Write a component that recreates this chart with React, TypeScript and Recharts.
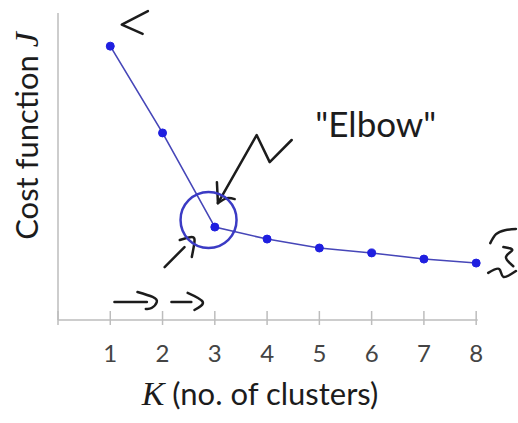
import React from "react";
import {
  LineChart,
  Line,
  XAxis,
  YAxis,
  ReferenceLine,
  ReferenceDot,
  Label,
} from "recharts";

// K vs cost J
const clusterCounts = [1, 2, 3, 4, 5, 6, 7, 8];
const costValues = [89.0, 60.8, 30.2, 26.3, 23.4, 21.8, 19.8, 18.5];
const xTicks = [0, 1, 2, 3, 4, 5, 6, 7, 8];

// pen scribbles, in data units
const topCaret = [
  { k: 1.72, j: 100.4 },
  { k: 1.22, j: 96.0 },
  { k: 1.62, j: 93.0 },
];
const elbowArrow = [
  { k: 4.47, j: 58.5 },
  { k: 4.05, j: 51.3 },
  { k: 3.8, j: 60.1 },
  { k: 3.06, j: 38.0 },
];
const arrowBarbA = [
  { k: 3.04, j: 44.8 },
  { k: 3.06, j: 38.0 },
];
const arrowBarbB = [
  { k: 3.06, j: 38.0 },
  { k: 3.23, j: 39.6 },
  { k: 3.38, j: 39.3 },
];
const hookStroke = [
  { k: 2.04, j: 17.2 },
  { k: 2.42, j: 23.7 },
];
const hook = [
  { k: 2.33, j: 26.0 },
  { k: 2.56, j: 27.0 },
  { k: 2.61, j: 25.3 },
  { k: 2.56, j: 20.5 },
];
const shaft1 = [
  { k: 1.08, j: 5.85 },
  { k: 1.7, j: 5.85 },
];
const head1 = [
  { k: 1.52, j: 9.1 },
  { k: 1.81, j: 7.5 },
  { k: 1.89, j: 5.85 },
  { k: 1.79, j: 3.9 },
  { k: 1.68, j: 3.6 },
];
const shaft2 = [
  { k: 2.17, j: 5.85 },
  { k: 2.55, j: 5.85 },
];
const head2 = [
  { k: 2.48, j: 8.8 },
  { k: 2.77, j: 5.85 },
  { k: 2.61, j: 3.25 },
];
const rightTop = [
  { k: 8.27, j: 25.0 },
  { k: 8.38, j: 27.9 },
  { k: 8.55, j: 29.2 },
  { k: 8.76, j: 29.6 },
];
const rightMid = [
  { k: 8.52, j: 23.7 },
  { k: 8.69, j: 22.7 },
  { k: 8.57, j: 20.5 },
  { k: 8.71, j: 17.5 },
];
const rightBottom = [
  { k: 8.23, j: 15.3 },
  { k: 8.44, j: 16.6 },
  { k: 8.52, j: 14.0 },
  { k: 8.76, j: 15.9 },
];

const costData = clusterCounts.map((k, i) => ({ k, j: costValues[i] }));

const scribbles = [
  { data: topCaret, type: "linear" },
  { data: elbowArrow, type: "linear" },
  { data: arrowBarbA, type: "linear" },
  { data: arrowBarbB, type: "natural" },
  { data: hookStroke, type: "linear" },
  { data: hook, type: "natural" },
  { data: shaft1, type: "linear" },
  { data: head1, type: "natural" },
  { data: shaft2, type: "linear" },
  { data: head2, type: "natural" },
  { data: rightTop, type: "natural" },
  { data: rightMid, type: "natural" },
  { data: rightBottom, type: "natural" },
];

const SANS = "Lato, 'Noto Sans', sans-serif";
const SERIF = "'Liberation Serif', 'DejaVu Serif', serif";
const INK = "#1c1c1c";
const AXIS = "#bdbdbd";

const KTick = (props: any) => {
  const { x, y, payload } = props;
  return (
    <g>
      <line x1={x} x2={x} y1={y - 9} y2={y + 5} stroke={AXIS} strokeWidth={1.5} />
      {payload.value !== 0 && (
        <text x={x} y={y + 42} textAnchor="middle" fontFamily={SANS} fontSize={24} fill="#444">
          {payload.value}
        </text>
      )}
    </g>
  );
};

const renderXLabel = (props: any) => {
  const vb = props.viewBox;
  return (
    <text x={vb.x + 202} y={vb.y + 85} textAnchor="middle" fontFamily={SANS} fontSize={31} fill={INK}>
      <tspan fontFamily={SERIF} fontStyle="italic" fontSize={34}>K</tspan>
      <tspan> (no. of clusters)</tspan>
    </text>
  );
};

const renderYLabel = (props: any) => {
  const vb = props.viewBox;
  const cx = vb.x + 38;
  const cy = vb.y + 136;
  return (
    <text
      x={cx}
      y={cy}
      transform={`rotate(-90 ${cx} ${cy})`}
      textAnchor="middle"
      fontFamily={SANS}
      fontSize={31}
      fill={INK}
    >
      <tspan>Cost function </tspan>
      <tspan fontFamily={SERIF} fontStyle="italic" fontSize={34}>J</tspan>
    </text>
  );
};

const renderElbow = (props: any) => {
  const vb = props.viewBox;
  return (
    <text x={vb.x} y={vb.y} textAnchor="middle" fontFamily={SANS} fontSize={35} fill={INK}>
      "Elbow"
    </text>
  );
};

export default function App() {
  return (
    <div style={{ position: "absolute", left: 0, top: 0, width: 518, height: 423, background: "#fff" }}>
      <LineChart width={518} height={423} data={costData} margin={{ top: 0, right: 0, left: 0, bottom: 0 }}>
        <XAxis
          type="number"
          dataKey="k"
          domain={[0, 8.8]}
          ticks={xTicks}
          allowDataOverflow
          axisLine={false}
          tickLine={false}
          tickSize={0}
          tickMargin={0}
          tick={KTick}
          height={103}
          label={<Label content={renderXLabel} />}
        />
        <YAxis
          type="number"
          domain={[0, 104]}
          allowDataOverflow
          width={58}
          tick={false}
          tickLine={false}
          axisLine={false}
          label={<Label content={renderYLabel} />}
        />
        <ReferenceLine segment={[{ x: 0, y: 0 }, { x: 8.03, y: 0 }]} stroke={AXIS} strokeWidth={1.5} />
        <ReferenceLine segment={[{ x: 0, y: 0 }, { x: 0, y: 99.8 }]} stroke={AXIS} strokeWidth={1.5} />
        <ReferenceDot
          x={2.88}
          y={32.5}
          r={28}
          fill="none"
          stroke="#3b3bc4"
          strokeWidth={2.5}
          isFront
        />
        <ReferenceDot x={6.08} y={59.5} r={0} fill="none" stroke="none" label={<Label content={renderElbow} />} />
        <Line
          type="linear"
          dataKey="j"
          stroke="#4646b8"
          strokeWidth={1.6}
          dot={{ r: 4, fill: "#1f1fe0", stroke: "#1f1fe0", strokeWidth: 1 }}
          activeDot={false}
          isAnimationActive={false}
        />
        {scribbles.map((s, i) => (
          <Line
            key={i}
            data={s.data}
            type={s.type as any}
            dataKey="j"
            stroke={INK}
            strokeWidth={2.5}
            strokeLinecap="round"
            strokeLinejoin="round"
            dot={false}
            activeDot={false}
            isAnimationActive={false}
          />
        ))}
      </LineChart>
    </div>
  );
}
